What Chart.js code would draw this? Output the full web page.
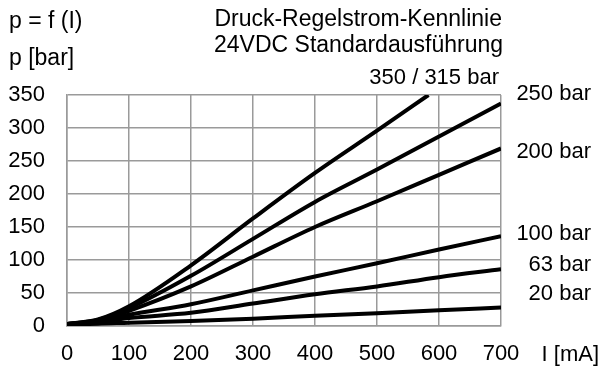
<!DOCTYPE html>
<html>
<head>
<meta charset="utf-8">
<script src="https://cdn.jsdelivr.net/npm/chart.js@4/dist/chart.umd.min.js"></script>
<style>
  html, body { margin: 0; padding: 0; background: #fff; }
  #wrap { width: 601px; height: 370px; position: relative; }
</style>
</head>
<body>
<div id="wrap"><canvas id="c" width="601" height="370"></canvas></div>
<script>
// ---- data ----
const currentMA = [0, 50, 100, 200, 300, 400, 500, 600, 700];   // I [mA]
const currentTop = [0, 50, 100, 200, 300, 400, 500, 583];       // I [mA] for 350/315 bar curve
const p350 = [3, 10, 30, 92, 163, 232, 296, 350];
const p250 = [3, 9, 27, 76, 132, 188, 237, 287, 337];
const p200 = [3, 8, 23, 60, 105, 150, 189, 229, 269];
const p100 = [3, 7, 17, 33, 54, 75, 95, 116, 136];
const p63  = [3, 6, 12, 20, 34, 48, 60, 74, 86];
const p20  = [3, 3.5, 5, 7.5, 11, 15.5, 19.5, 24, 28];

const xTicks = [0, 100, 200, 300, 400, 500, 600, 700];
const yTicks = [0, 50, 100, 150, 200, 250, 300, 350];

const seriesNames = ['350 / 315 bar', '250 bar', '200 bar', '100 bar', '63 bar', '20 bar'];
const titleLines = ['Druck-Regelstrom-Kennlinie', '24VDC Standardausführung'];

// ---- build ----
function pts(xs, ys) { return xs.map((x, i) => ({ x: x, y: ys[i] })); }
const seriesData = [
  pts(currentTop, p350), pts(currentMA, p250), pts(currentMA, p200),
  pts(currentMA, p100), pts(currentMA, p63), pts(currentMA, p20)
];

const FONT = "'Liberation Sans', Arial, sans-serif";
const GRID = '#9a9a9a';

const textPlugin = {
  id: 'texts',
  afterDraw(chart) {
    const ctx = chart.ctx;
    const a = chart.chartArea;
    ctx.save();
    ctx.fillStyle = '#000';
    ctx.textBaseline = 'middle';
    ctx.font = '23px ' + FONT;
    ctx.textAlign = 'left';
    ctx.fillText('p = f (I)', 9, 22);
    ctx.fillText('p [bar]', 9, 59);
    ctx.textAlign = 'right';
    ctx.fillText(titleLines[0], a.right + 1, 20);
    ctx.fillText(titleLines[1], a.right + 2, 46);
    ctx.font = '22px ' + FONT;
    ctx.fillText(seriesNames[0], a.right - 2, 78);
    const rightY = [94, 152, 234, 265, 294];
    for (let i = 1; i < seriesNames.length; i++) {
      ctx.fillText(seriesNames[i], a.right + 90, rightY[i - 1]);
    }
    ctx.fillText('I [mA]', 599, 355);
    ctx.restore();
  }
};

new Chart(document.getElementById('c'), {
  type: 'line',
  data: {
    datasets: seriesData.map((d, i) => ({
      label: seriesNames[i],
      data: d,
      borderColor: '#000',
      borderWidth: 4,
      pointRadius: 0,
      fill: false,
      cubicInterpolationMode: 'monotone'
    }))
  },
  options: {
    responsive: false,
    animation: false,
    devicePixelRatio: 1,
    layout: { padding: { left: 0, top: 95, right: 100, bottom: 0 } },
    plugins: { legend: { display: false }, tooltip: { enabled: false }, title: { display: false } },
    scales: {
      x: {
        type: 'linear',
        min: 0, max: 700,
        afterBuildTicks(s) { s.ticks = xTicks.map(v => ({ value: v })); },
        afterFit(s) { s.height = 44; },
        grid: { color: GRID, lineWidth: 1.5, drawTicks: false },
        border: { color: GRID, width: 1.5 },
        ticks: { color: '#000', font: { family: FONT, size: 22 }, padding: 15, maxRotation: 0, autoSkip: false }
      },
      y: {
        type: 'linear',
        min: 0, max: 350,
        afterBuildTicks(s) { s.ticks = yTicks.map(v => ({ value: v })); },
        afterFit(s) { s.width = 67; },
        grid: { color: GRID, lineWidth: 1.5, drawTicks: false },
        border: { color: GRID, width: 1.5 },
        ticks: { color: '#000', font: { family: FONT, size: 22 }, padding: 22 }
      }
    }
  },
  plugins: [textPlugin]
});
</script>
</body>
</html>
